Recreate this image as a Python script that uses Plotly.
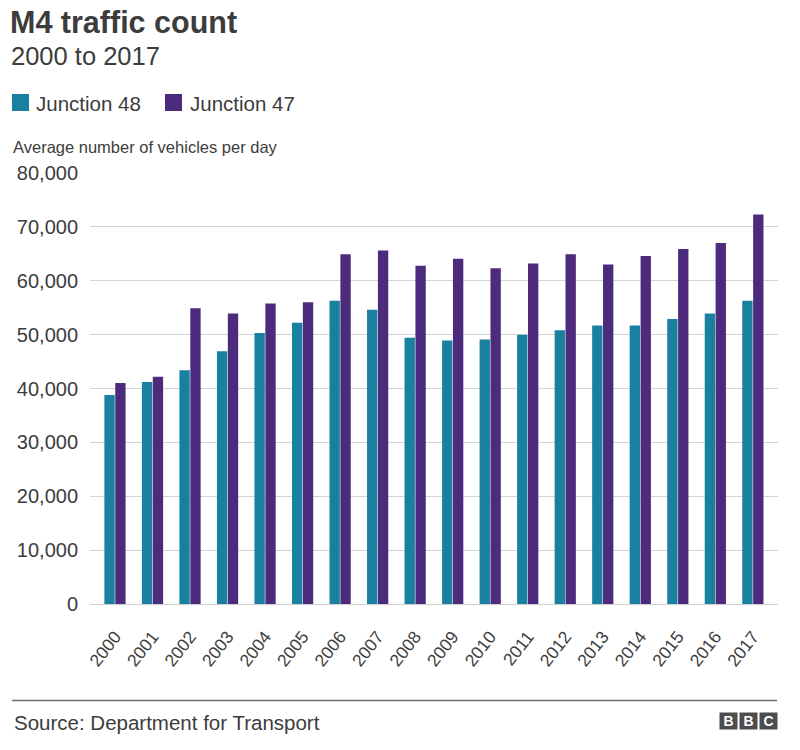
import plotly.graph_objects as go

years = [str(y) for y in range(2000, 2018)]
junction_48 = [38800, 41200, 43400, 46900, 50300, 52200, 56300, 54600, 49400,
               48900, 49100, 50000, 50800, 51700, 51700, 52900, 53900, 56300]
junction_47 = [41000, 42200, 54900, 53900, 55800, 56000, 64900, 65600, 62800,
               64100, 62300, 63200, 64900, 63000, 64600, 65900, 67000, 72300]
y_ticks = [0, 10000, 20000, 30000, 40000, 50000, 60000, 70000, 80000]
series_names = ["Junction 48", "Junction 47"]

TEAL = "#1a80a0"
PURPLE = "#4c2a7c"
TXT = "#3c3c3c"
FONT = "Liberation Sans, Arial, sans-serif"

W, H = 800, 750
L, R, T, B = 90, 22, 173, 146
PW, PH = W - L - R, H - T - B


def px(x):
    return (x - L) / PW


def py(y):
    return (H - B - y) / PH


fig = go.Figure()
fig.add_trace(go.Bar(x=years, y=junction_48, name=series_names[0],
                     marker=dict(color=TEAL, line=dict(width=0))))
fig.add_trace(go.Bar(x=years, y=junction_47, name=series_names[1],
                     marker=dict(color=PURPLE, line=dict(width=0))))

annotations = [
    dict(text="<b>M4 traffic count</b>", x=px(8), y=py(3), xanchor="left", yanchor="top",
         font=dict(size=30.5, color=TXT, family=FONT)),
    dict(text="2000 to 2017", x=px(9), y=py(40), xanchor="left", yanchor="top",
         font=dict(size=25.5, color=TXT, family=FONT)),
    dict(text=series_names[0], x=px(34), y=py(103), xanchor="left", yanchor="middle",
         font=dict(size=20.5, color=TXT, family=FONT)),
    dict(text=series_names[1], x=px(188), y=py(103), xanchor="left", yanchor="middle",
         font=dict(size=20.5, color=TXT, family=FONT)),
    dict(text="Average number of vehicles per day", x=px(11), y=py(147), xanchor="left",
         yanchor="middle", font=dict(size=16.5, color=TXT, family=FONT)),
    dict(text="Source: Department for Transport", x=px(12), y=py(722), xanchor="left",
         yanchor="middle", font=dict(size=20.5, color=TXT, family=FONT)),
]
for i, letter in enumerate(["B", "B", "C"]):
    annotations.append(dict(text="<b>%s</b>" % letter, x=px(719 + i * 20), y=py(721),
                            xanchor="left", yanchor="middle", width=15, height=14,
                            bgcolor="#4d4d4d", borderpad=1,
                            font=dict(size=14, color="white", family=FONT)))
for a in annotations:
    a.update(xref="paper", yref="paper", showarrow=False)

shapes = [
    dict(type="line", xref="paper", yref="paper", x0=px(12), x1=px(777),
         y0=py(700.5), y1=py(700.5), line=dict(color="#6e6e6e", width=1.5)),
    dict(type="rect", xref="paper", yref="paper", x0=px(12), x1=px(29),
         y0=py(111), y1=py(94), fillcolor=TEAL, line=dict(width=0)),
    dict(type="rect", xref="paper", yref="paper", x0=px(165), x1=px(182),
         y0=py(111), y1=py(94), fillcolor=PURPLE, line=dict(width=0)),
]

fig.update_layout(
    width=W, height=H,
    margin=dict(l=L, r=R, t=T, b=B),
    paper_bgcolor="white", plot_bgcolor="white",
    barmode="group", bargap=0.42, bargroupgap=0.05,
    font=dict(family=FONT, color=TXT),
    showlegend=False,
    xaxis=dict(type="category", range=[-0.666, 17.67], tickangle=-52, showgrid=False,
               showline=False, ticks="", ticklabelstandoff=18,
               tickfont=dict(size=17.5, color=TXT)),
    yaxis=dict(range=[0, 80000], tickvals=y_ticks, tickformat=",", showgrid=True,
               gridcolor="#d4d4d4", gridwidth=1, zeroline=True, zerolinecolor="#cfcfcf",
               zerolinewidth=1, showline=False, ticks="", ticklabelstandoff=11,
               tickfont=dict(size=20, color=TXT)),
    annotations=annotations,
    shapes=shapes,
)

fig.write_html("out.html", config={"displayModeBar": False},
               post_script="document.body.style.margin='0';")
